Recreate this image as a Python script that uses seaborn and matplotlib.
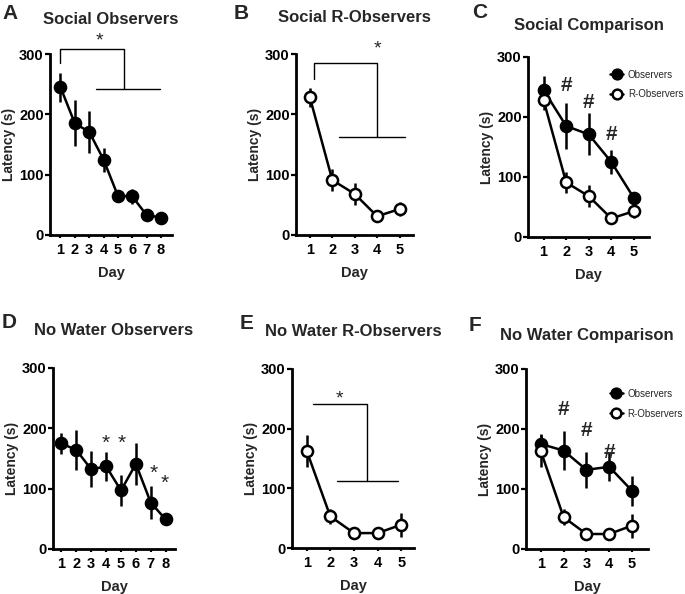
import matplotlib
matplotlib.use("Agg")
import matplotlib.pyplot as plt
import numpy as np
import seaborn as sns
from matplotlib.lines import Line2D

# data (mean latency and SEM in seconds)
days8 = [1, 2, 3, 4, 5, 6, 7, 8]
days5 = [1, 2, 3, 4, 5]

social_obs_mean = [245, 185, 171, 125, 65, 64, 33, 29]
social_obs_sem = [24, 38, 35, 20, 5, 13, 4, 3]
social_ros_mean = [228, 91, 68, 31, 43]
social_ros_sem = [16, 18, 18, 3, 12]

nowater_obs_mean = [175, 164, 132, 137, 97, 141, 77, 49]
nowater_obs_sem = [17, 33, 30, 24, 25, 35, 28, 3]
nowater_ros_mean = [163, 53, 25, 25, 39]
nowater_ros_sem = [27, 13, 3, 3, 20]

titles = ["Social Observers", "Social R-Observers", "Social Comparison",
          "No Water Observers", "No Water R-Observers", "No Water Comparison"]
letters = ["A", "B", "C", "D", "E", "F"]
series_labels = ["Observers", "R-Observers"]

sns.set_style("ticks")
plt.rcParams["font.family"] = ["Liberation Sans", "DejaVu Sans"]
plt.rcParams["font.weight"] = "bold"

W, H = 685, 594
fig = plt.figure(figsize=(W / 100, H / 100), dpi=100)

# axes boxes in pixels: left, right, top, bottom
boxes = [(50, 172, 54, 235), (296, 413, 54, 235), (528, 649, 57, 237),
         (53, 175, 368, 549), (292, 414, 369, 548), (526, 648, 369, 549)]
xlims = [(0.27, 8.77), (0.38, 5.6), (0.31, 5.67),
         (0.43, 8.63), (0.38, 5.54), (0.35, 5.7)]
title_base = [24, 22, 30, 335, 336, 340]
letter_pos = [(2, 19), (234, 19), (472, 18), (2, 328), (240, 329), (469, 331)]


def make_ax(i):
    l, r, t, b = boxes[i]
    ax = fig.add_axes([l / W, 1 - b / H, (r - l) / W, (b - t) / H])
    ax.set_ylim(0, 300)
    ax.set_xlim(*xlims[i])
    ax.set_yticks([0, 100, 200, 300])
    for s in ["top", "right"]:
        ax.spines[s].set_visible(False)
    for s in ["left", "bottom"]:
        ax.spines[s].set_linewidth(2)
        ax.spines[s].set_color("black")
    ax.tick_params(axis="y", length=3.5, width=1.6, pad=1, labelsize=10.5, colors="black")
    ax.tick_params(axis="x", length=2.5, width=1.6, pad=3, labelsize=10.5, colors="black")
    fig.text((l + r) / 2 / W, 1 - title_base[i] / H, titles[i], ha="center",
             va="baseline", fontsize=12, fontweight="bold")
    lx, ly = letter_pos[i]
    fig.text(lx / W, 1 - ly / H, letters[i], ha="left", va="baseline",
             fontsize=15, fontweight="bold")
    return ax


def draw(ax, x, mean, sem, filled):
    ax.errorbar(x, mean, yerr=sem, fmt="none", ecolor="black", elinewidth=1.8,
                capsize=0, zorder=1.5)
    sns.lineplot(x=x, y=mean, ax=ax, color="black", linewidth=1.8, marker="o",
                 markersize=8, markerfacecolor="black" if filled else "white",
                 markeredgecolor="black", markeredgewidth=1.8, legend=False,
                 zorder=3 if not filled else 2.5)
    ax.set_xticks(x)
    ax.set_xlabel("Day", fontsize=10.5, fontweight="bold", labelpad=7)
    ax.set_ylabel("Latency (s)", fontsize=10, fontweight="bold", labelpad=2)


def bracket(ax, pts):
    ax.plot([p[0] for p in pts], [p[1] for p in pts], color="black",
            linewidth=1, clip_on=False, zorder=1)


def mark(ax, x, y, s, size=14, weight="normal"):
    ax.text(x, y, s, ha="center", va="center", fontsize=size,
            fontweight=weight, clip_on=False)


def legend(ax, anchor):
    handles = [Line2D([], [], color="black", linewidth=1.8, marker="o", markersize=7,
                      markerfacecolor=fc, markeredgecolor="black", markeredgewidth=1.8)
               for fc in ["black", "white"]]
    leg = ax.legend(handles, series_labels, loc="upper left", bbox_to_anchor=anchor,
                    frameon=False, borderpad=0, borderaxespad=0, handlelength=1.3,
                    handletextpad=0.5, labelspacing=1.0,
                    prop={"size": 7, "weight": "normal"})
    return leg


# A
ax = make_ax(0)
draw(ax, days8, social_obs_mean, social_obs_sem, True)
bracket(ax, [(1, 285), (1, 308), (5.4, 308), (5.4, 242)])
bracket(ax, [(3.45, 242), (7.9, 242)])
mark(ax, 3.75, 322, "*")

# B
ax = make_ax(1)
draw(ax, days5, social_ros_mean, social_ros_sem, False)
bracket(ax, [(1.2, 258), (1.2, 285), (4.0, 285), (4.0, 163)])
bracket(ax, [(2.3, 163), (5.25, 163)])
mark(ax, 4.0, 309, "*")

# C
ax = make_ax(2)
draw(ax, days5, social_ros_mean, social_ros_sem, False)
draw(ax, days5, social_obs_mean[:5], social_obs_sem[:5], True)
for x, y in [(2, 253), (3, 225), (4, 170)]:
    mark(ax, x, y, "#", size=15, weight="bold")
legend(ax, (0.68, 0.93))

# D
ax = make_ax(3)
draw(ax, days8, nowater_obs_mean, nowater_obs_sem, True)
for x, y in [(4, 175), (5.04, 175), (7.17, 126), (7.95, 109)]:
    mark(ax, x, y, "*", size=15)

# E
ax = make_ax(4)
draw(ax, days5, nowater_ros_mean, nowater_ros_sem, False)
bracket(ax, [(1.25, 241), (3.55, 241), (3.55, 113)])
bracket(ax, [(2.28, 113), (4.88, 113)])
mark(ax, 2.4, 249, "*")

# F
ax = make_ax(5)
draw(ax, days5, nowater_ros_mean, nowater_ros_sem, False)
draw(ax, days5, nowater_obs_mean[:5], nowater_obs_sem[:5], True)
for x, y in [(2, 233), (3, 197), (4, 161)]:
    mark(ax, x, y, "#", size=15, weight="bold")
legend(ax, (0.69, 0.89))

fig.savefig("out.png", dpi=100)
